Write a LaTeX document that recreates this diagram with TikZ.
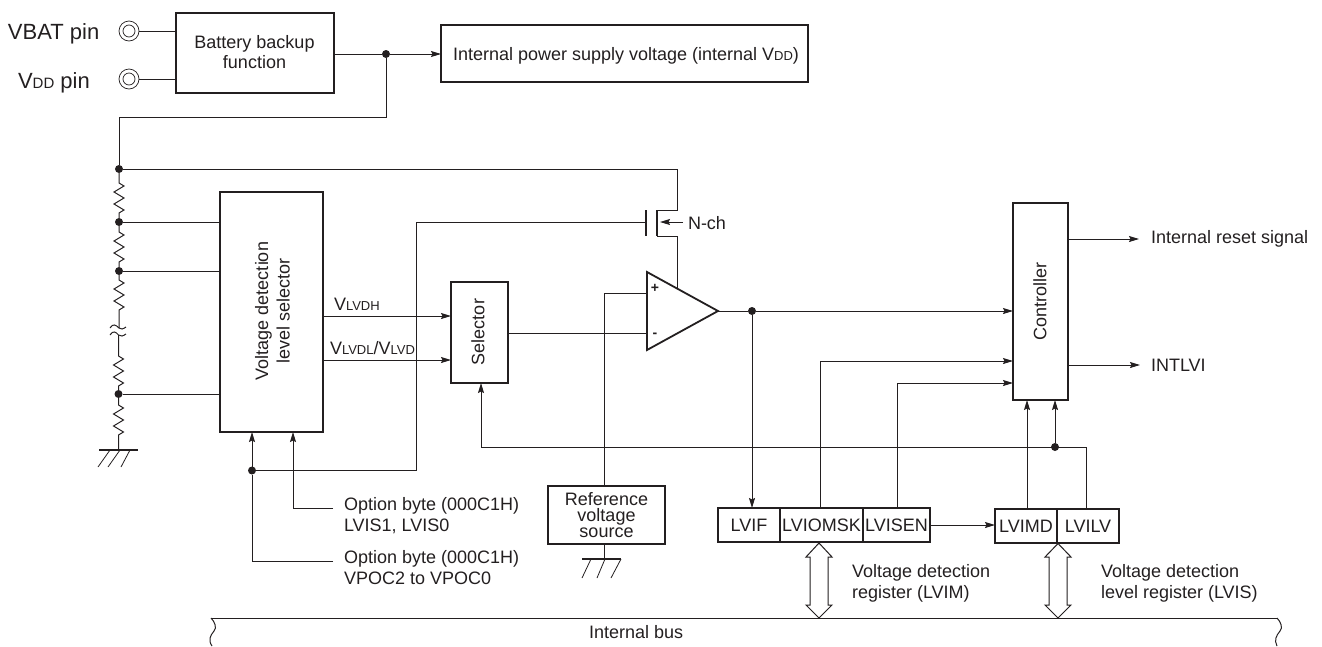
\documentclass[tikz,border=0pt]{standalone}
\usepackage{fontspec}
\setmainfont{Liberation Sans}
\usetikzlibrary{arrows.meta,calc}
\definecolor{ink}{HTML}{231F20}
\newcommand{\sm}[1]{{\fontsize{13}{13}\selectfont #1}}
\def\zig{-- ++(5,3) -- ++(-10,6) -- ++(10,6) -- ++(-10,6) -- ++(10,6) -- ++(-5,3)}
\tikzset{
  wire/.style={draw=ink,line width=1pt},
  arr/.style={wire,-{Stealth[length=10pt,width=6pt,inset=1.5pt]}},
  box/.style={draw=ink,line width=1.8pt,outer sep=0pt,inner sep=0pt,fill=white,text=ink,align=center,font=\fontsize{18}{20}\selectfont},
  lbl/.style={anchor=base west,inner sep=0pt,outer sep=0pt,text=ink,font=\fontsize{18}{21}\selectfont},
  big/.style={anchor=base west,inner sep=0pt,outer sep=0pt,text=ink,font=\fontsize{22}{24}\selectfont},
  dot/.style={circle,fill=ink,draw=none,minimum size=8pt,inner sep=0pt,outer sep=0pt},
  pin/.style={circle,draw=ink,line width=0.7pt,fill=white,minimum size=20pt,inner sep=0pt,outer sep=0pt},
  pinin/.style={circle,draw=ink,line width=0.7pt,minimum size=12pt,inner sep=0pt,outer sep=0pt},
  dblarr/.style={draw=ink,line width=1pt,fill=white,line join=miter},
  gnd/.style={draw=ink,line width=2pt},
  hatch/.style={draw=ink,line width=0.8pt}
}
\begin{document}
\begin{tikzpicture}[x=1pt,y=-1pt]
\useasboundingbox (0,0) rectangle (1322,646);

% boxes
\node[box,minimum width=158pt,minimum height=80pt] (bat) at (255,53) {};
\node[lbl,anchor=base] (battxt1) at (254.5,48) {Battery backup};
\node[lbl,anchor=base] (battxt2) at (254.5,68) {function};
\node[box,minimum width=367pt,minimum height=57pt] (ipw) at (624.5,53.5) {};
\node[lbl] (ipwtxt) at (453,60) {Internal power supply voltage (internal V\sm{DD})};
\node[box,minimum width=103pt,minimum height=240pt] (vsel) at (271.5,312) {};
\node[rotate=90,text=ink,align=center,inner sep=0pt,font=\fontsize{18}{21.5}\selectfont] (vseltxt) at (272.5,311) {Voltage detection\\level selector};
\node[box,minimum width=57pt,minimum height=101pt] (sel) at (479.5,332.5) {};
\node[rotate=90,text=ink,inner sep=0pt,font=\fontsize{18}{20}\selectfont] (seltxt) at (478,332) {Selector};
\node[box,minimum width=55pt,minimum height=197pt] (ctl) at (1040.5,301.5) {};
\node[rotate=90,text=ink,inner sep=0pt,font=\fontsize{18}{20}\selectfont] (ctltxt) at (1040,301) {Controller};
\node[box,minimum width=117pt,minimum height=58pt,font=\fontsize{18}{16}\selectfont] (ref) at (606.5,515) {Reference\\voltage\\source};
\node[box,minimum width=62pt,minimum height=34pt] (lvif) at (749,525) {LVIF};
\node[box,minimum width=83pt,minimum height=34pt] (lvio) at (821.5,525) {LVIOMSK};
\node[box,minimum width=67pt,minimum height=34pt] (lvisen) at (896.5,525) {LVISEN};
\node[box,minimum width=62pt,minimum height=34pt] (lvimd) at (1026,526) {LVIMD};
\node[box,minimum width=62pt,minimum height=34pt] (lvilv) at (1088,526) {LVILV};

% pins
\node[pin] (pina) at (129,31) {};
\node[pinin] (pinai) at (129,31) {};
\node[pin] (pinb) at (129,79) {};
\node[pinin] (pinbi) at (129,79) {};
\node[big] (pinatxt) at (8,39) {VBAT pin};
\node[big] (pinbtxt) at (18,88) {V{\fontsize{15}{15}\selectfont DD} pin};
\draw[wire] (pina) -- (pina -| bat.west);
\draw[wire] (pinb) -- (pinb -| bat.west);

% supply
\node[dot] (d0) at (386,54) {};
\coordinate (c1) at (386,117);
\coordinate (c2) at (119,117);
\node[dot] (d1) at (119,169) {};
\node[dot] (d2) at (119,222) {};
\node[dot] (d3) at (119,271) {};
\node[dot] (d4) at (118.5,394) {};
\draw[wire] (d0 -| bat.east) -- (d0);
\draw[arr] (d0) -- (d0 -| ipw.west);
\draw[wire] (d0) -- (c1) -- (c2) -- (d1);

% divider
\draw[wire] (d1) -- ++(0,14) \zig -- (d2);
\draw[wire] (d2) -- ++(0,10) \zig -- (d3);
\draw[wire] (d3) -- ++(0,9) \zig -- (119,328);
\draw[wire] (110,328) .. controls (113,323) and (116,325) .. (119,328) .. controls (121,330) and (123,329) .. (126,327);
\draw[wire] (110,335) .. controls (113,330) and (116,332) .. (118.5,335) .. controls (121,337) and (123,336) .. (126,334);
\draw[wire] (118.5,335) -- (118.5,356) \zig -- (d4);
\coordinate (g0) at (118.5,450);
\draw[wire] (d4) -- ++(0,11) \zig -- (g0);
\draw[gnd] (99,450) -- (138,450);
\draw[hatch] (110,450) -- (98,467) (120,450) -- (108,467) (130,450) -- (121,467);
\draw[wire] (d2) -- (d2 -| vsel.west);
\draw[wire] (d3) -- (d3 -| vsel.west);
\draw[wire] (d4) -- (d4 -| vsel.west);

% MOSFET
\coordinate (mtop) at (677,169);
\coordinate (md) at (657,210);
\coordinate (ms) at (657,236);
\coordinate (mg) at (646,222);
\draw[wire] (d1) -- (mtop) -- (677,210) -- (md);
\draw[draw=ink,line width=1.8pt] (md) -- (ms);
\draw[draw=ink,line width=1.8pt] (646,210) -- (646,236);
\draw[arr] (683,222) -- (660,222);
\node[lbl] (nch) at (688,229) {N-ch};

% comparator
\coordinate (ctop) at (647,272);
\coordinate (cbot) at (647,350);
\coordinate (ctip) at (718,311);
\draw[wire] (ms) -- (677,236) -- (677,288);
\draw[draw=ink,line width=1.8pt,line join=miter,fill=white] (ctop) -- (ctip) -- (cbot) -- cycle;
\node[inner sep=0pt,text=ink,font=\bfseries\fontsize{14}{14}\selectfont] (cplus) at (655,288) {+};
\node[inner sep=0pt,text=ink,font=\bfseries\fontsize{14}{14}\selectfont] (cminus) at (655,335) {-};

% selector inputs / outputs
\coordinate (vh) at (323,316);
\coordinate (vl) at (323,360);
\draw[arr] (vh) -- (vh -| sel.west);
\draw[arr] (vl) -- (vl -| sel.west);
\node[lbl] (vhtxt) at (334,310) {V\sm{LVDH}};
\node[lbl] (vltxt) at (330,354) {V\sm{LVDL}/V\sm{LVD}};
\coordinate (minus) at (647,333);
\draw[wire] (minus -| sel.east) -- (minus);

% gate wire + VPOC
\node[dot] (d5) at (252,470.5) {};
\coordinate (gc) at (416,470.5);
\coordinate (gt) at (416,222);
\draw[wire] (d5) -- (gc) -- (gt) -- (mg);
\draw[arr] (d5) -- (d5 |- vsel.south);
\coordinate (o1) at (293,508);
\coordinate (o1e) at (333,508);
\coordinate (o2) at (252,561);
\coordinate (o2e) at (333,561);
\draw[arr] (o1e) -- (o1) -- (o1 |- vsel.south);
\draw[wire] (o2e) -- (o2) -- (d5);
\node[lbl,align=left,anchor=north west] (opt1) at (344,497.5) {Option byte (000C1H)\\LVIS1, LVIS0};
\node[lbl,align=left,anchor=north west] (opt2) at (344,550.5) {Option byte (000C1H)\\VPOC2 to VPOC0};

% reference
\coordinate (plus) at (647,293);
\draw[wire] (plus) -- (604,293) -- (604,486);
\coordinate (g1) at (604,559);
\draw[wire] (604,544) -- (g1);
\draw[gnd] (582,559) -- (621,559);
\draw[hatch] (591,559) -- (582,578) (605,559) -- (597,578) (621,559) -- (611,578);

% output
\node[dot] (d6) at (752,311) {};
\draw[wire] (ctip) -- (d6);
\draw[arr] (d6) -- (d6 -| ctl.west);
\draw[arr] (d6) -- (d6 |- lvif.north);
\coordinate (y1) at (820,361);
\coordinate (y2) at (897,383);
\draw[arr] (y1 |- lvio.north) -- (y1) -- (y1 -| ctl.west);
\draw[arr] (y2 |- lvisen.north) -- (y2) -- (y2 -| ctl.west);
\draw[arr] (lvisen.east) -- (lvisen.east -| lvimd.west);

% controller bottom
\node[dot] (d7) at (1055,447) {};
\coordinate (b1) at (1086,447);
\coordinate (b2) at (481,447);
\draw[arr] (d7) -- (d7 |- ctl.south);
\draw[arr] (1027,509) -- (1027,400);
\draw[arr] (1086,509) -- (b1) -- (b2) -- (481,383);

% controller outputs
\coordinate (r1) at (1139,239);
\coordinate (r2) at (1140,365);
\draw[arr] (r1 -| ctl.east) -- (r1);
\draw[arr] (r2 -| ctl.east) -- (r2);
\node[lbl] (rtxt) at (1151,243) {Internal reset signal};
\node[lbl] (itxt) at (1151,371) {INTLVI};

% bus
\coordinate (bl) at (211,618);
\coordinate (br) at (1277,618);
\draw[wire] (bl) -- (br);
\draw[wire] (bl) .. controls (215,622) and (217,628) .. (214,631) .. controls (210,636) and (208,640) .. (212,646);
\draw[wire] (br) .. controls (1281,622) and (1283,628) .. (1280,631) .. controls (1276,636) and (1274,640) .. (1277,646);
\node[lbl] (bustxt) at (589,638) {Internal bus};

% double arrows
\draw[dblarr] (819,543) -- (832,557) -- (828,557) -- (828,605) -- (832,605) -- (819,618) -- (806,605) -- (810,605) -- (810,557) -- (806,557) -- cycle;
\draw[dblarr] (1058,543.5) -- (1071,557) -- (1067,557) -- (1067,605) -- (1071,605) -- (1058,618) -- (1045,605) -- (1049,605) -- (1049,557) -- (1045,557) -- cycle;
\node[lbl,align=left,anchor=north west] (lvimtxt) at (852,564) {Voltage detection\\register (LVIM)};
\node[lbl,align=left,anchor=north west] (lvistxt) at (1101,564) {Voltage detection\\level register (LVIS)};
\end{tikzpicture}
\end{document}
